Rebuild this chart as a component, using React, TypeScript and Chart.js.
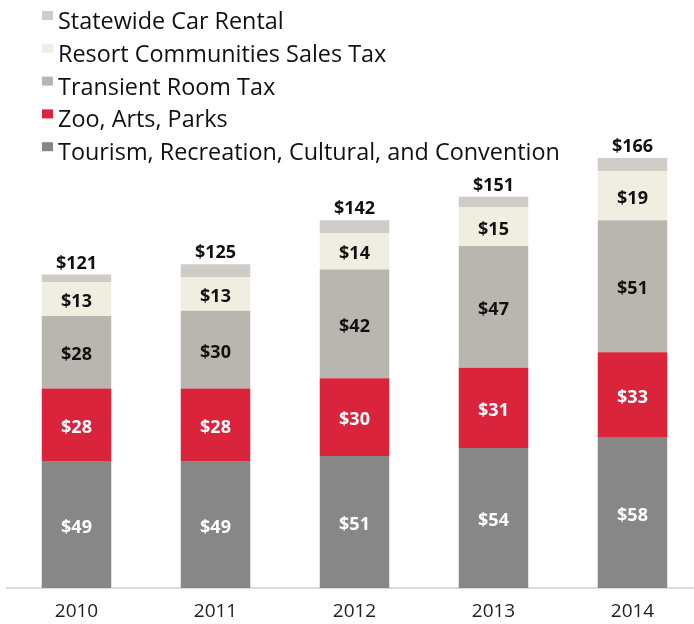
import React, { useEffect, useRef } from "react";
import { Chart, registerables } from "chart.js";
Chart.register(...registerables);

const years = ["2010", "2011", "2012", "2013", "2014"];
const tourism = [49, 49, 51, 54, 58];
const zoo = [28, 28, 30, 31, 33];
const transient = [28, 30, 42, 47, 51];
const resort = [13, 13, 14, 15, 19];
const carRental = [3, 5, 5, 4, 5];
const totals = [121, 125, 142, 151, 166];

const seriesNames = [
  "Tourism, Recreation, Cultural, and Convention",
  "Zoo, Arts, Parks",
  "Transient Room Tax",
  "Resort Communities Sales Tax",
  "Statewide Car Rental",
];
const seriesColors = ["#878787", "#d9243c", "#b9b6af", "#f0ede1", "#cfcbc6"];
const labelColors = ["#ffffff", "#ffffff", "#111111", "#111111", ""];

const FONT = '"Open Sans", sans-serif';

const labelPlugin = {
  id: "valueLabels",
  afterDatasetsDraw(chart: any) {
    const ctx = chart.ctx as CanvasRenderingContext2D;
    ctx.save();
    ctx.font = `bold 18px ${FONT}`;
    ctx.textAlign = "center";
    ctx.textBaseline = "middle";
    chart.data.datasets.forEach((ds: any, i: number) => {
      if (!ds.labelColor) return;
      const meta = chart.getDatasetMeta(i);
      meta.data.forEach((bar: any, j: number) => {
        const p = bar.getProps(["x", "y", "base"], true);
        ctx.fillStyle = ds.labelColor;
        ctx.fillText("$" + ds.data[j], p.x, (p.y + p.base) / 2 + 3);
      });
    });
    const topMeta = chart.getDatasetMeta(chart.data.datasets.length - 1);
    ctx.textBaseline = "alphabetic";
    ctx.fillStyle = "#111111";
    topMeta.data.forEach((bar: any, j: number) => {
      ctx.fillText("$" + totals[j], bar.x, bar.y - 6);
    });

    // legend
    ctx.font = `23.4px ${FONT}`;
    ctx.textAlign = "left";
    const n = chart.data.datasets.length;
    for (let k = 0; k < n; k++) {
      const ds = chart.data.datasets[n - 1 - k];
      const baseline = 29 + k * 32.8;
      ctx.fillStyle = ds.backgroundColor;
      ctx.fillRect(42, baseline - 18, 11, 9);
      ctx.fillStyle = "#111111";
      ctx.fillText(ds.label, 58, baseline);
    }
    ctx.restore();
  },
};

export default function App() {
  const ref = useRef<HTMLCanvasElement>(null);
  useEffect(() => {
    if (!ref.current) return;
    const dataArrays = [tourism, zoo, transient, resort, carRental];
    const chart = new Chart(ref.current, {
      type: "bar",
      data: {
        labels: years,
        datasets: dataArrays.map((d, i) => ({
          label: seriesNames[i],
          data: d,
          backgroundColor: seriesColors[i],
          borderWidth: 0,
          barPercentage: 0.5,
          categoryPercentage: 1,
          labelColor: labelColors[i],
        })) as any,
      },
      options: {
        responsive: false,
        animation: false,
        layout: { padding: { left: 7, right: 0, top: 0, bottom: 0 } },
        plugins: { legend: { display: false }, tooltip: { enabled: false } },
        scales: {
          x: {
            stacked: true,
            grid: { display: false, drawTicks: false },
            border: { display: true, color: "#dcdcdc", width: 2 },
            ticks: { color: "#222222", font: { family: FONT, size: 19 }, padding: 12 },
            afterFit: (scale: any) => {
              scale.height = 36;
            },
          },
          y: {
            stacked: true,
            display: false,
            min: 0,
            max: 227,
          },
        },
      },
      plugins: [labelPlugin],
    });
    return () => chart.destroy();
  }, []);
  return (
    <div style={{ position: "absolute", left: 0, top: 0, width: 694, height: 624, overflow: "hidden", background: "#fff" }}>
      <canvas ref={ref} width={702} height={624} style={{ display: "block" }} />
    </div>
  );
}
